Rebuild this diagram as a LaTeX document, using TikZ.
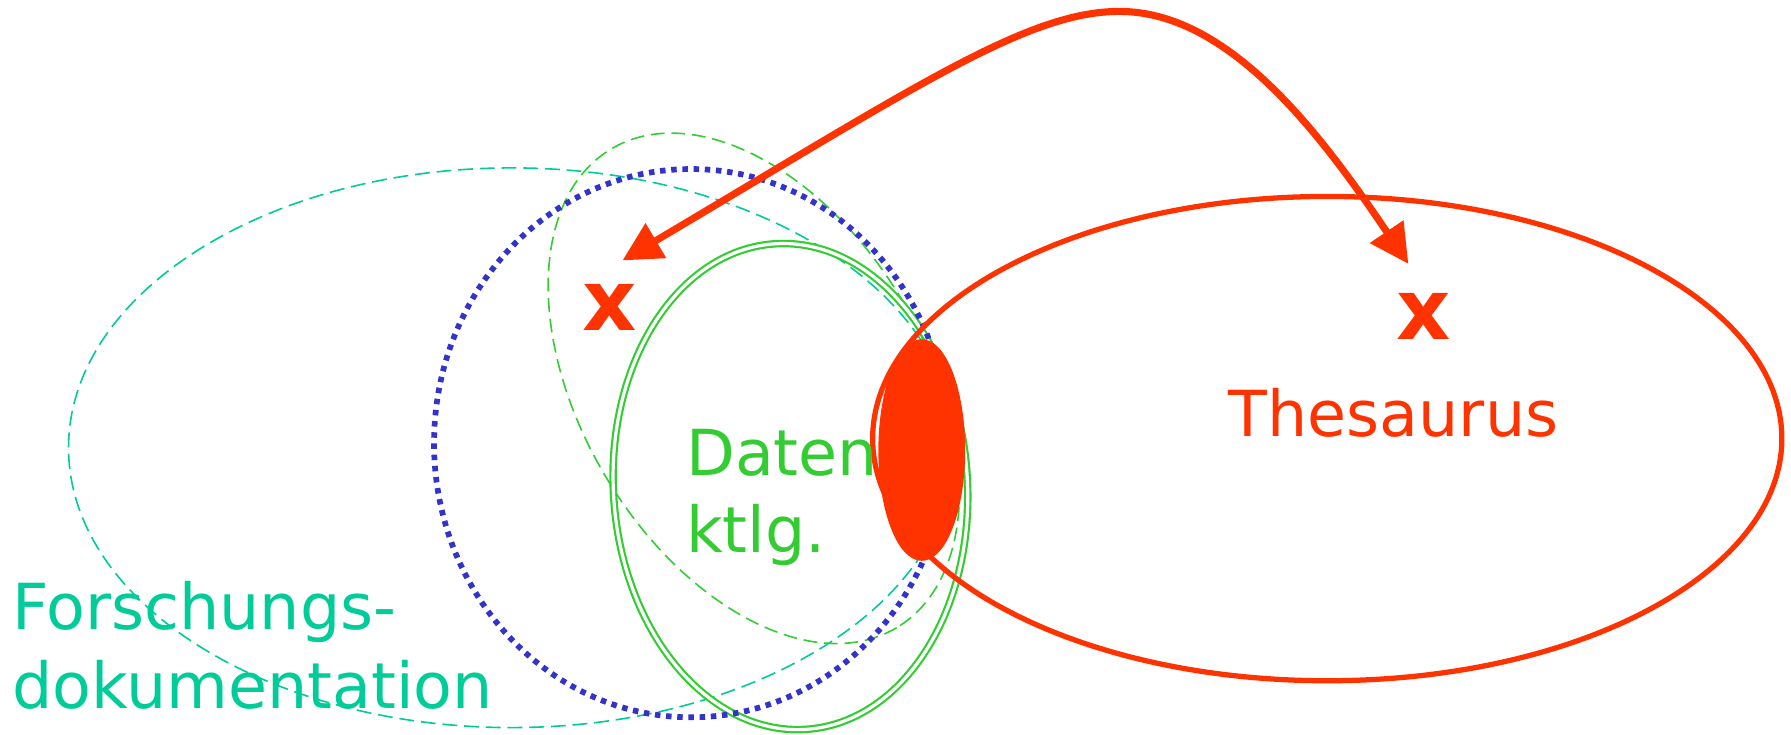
\documentclass[tikz,border=0pt]{standalone}
\usepackage{fontspec}
\setmainfont{DejaVu Sans}
\usetikzlibrary{arrows.meta}
\definecolor{tred}{HTML}{FF3300}
\definecolor{tgreen}{HTML}{33CC33}
\definecolor{tteal}{HTML}{00CC99}
\definecolor{tblue}{HTML}{3333CC}
\begin{document}
\begin{tikzpicture}[x=0.01cm, y=-0.01cm,
  lbl/.style={inner sep=0pt, anchor=base west, font=\fontsize{15.8}{19}\selectfont},
  xmark/.style={inner sep=0pt, anchor=base, text=tred, font=\fontsize{21}{25}\selectfont\bfseries},
  forsch/.style={draw=tteal, line width=0.014cm, dash pattern=on 0.13cm off 0.06cm},
  katdash/.style={draw=tgreen, line width=0.014cm, dash pattern=on 0.12cm off 0.06cm},
  katdouble/.style={draw=tgreen, line width=0.019cm, double=white, double distance=0.028cm},
  bluedot/.style={draw=tblue, line width=0.05cm, dash pattern=on 0.048cm off 0.05cm},
  thes/.style={draw=tred, line width=0.046cm},
  blob/.style={draw=tred, fill=tred, line width=0.02cm},
  linkarrow/.style={draw=tred, line width=0.062cm,
    {Triangle[length=0.34cm, width=0.34cm]}-{Triangle[length=0.34cm, width=0.34cm]}}
]
\useasboundingbox (0,0) rectangle (1568,643);

% Forschungsdokumentation (teal dashed)
\draw[forsch] (448,392) ellipse [x radius=388, y radius=245];
% Datenkatalog dashed ellipse (tilted)
\draw[katdash, rotate around={-59.2:(660,340)}] (660,340) ellipse [x radius=244, y radius=151];
% Datenkatalog double ellipse
\draw[katdouble, rotate around={3.6:(692,426)}] (692,426) ellipse [x radius=155, y radius=213];
% blue dotted ellipse
\draw[bluedot] (605,388) ellipse [x radius=225, y radius=240];
% Thesaurus ellipse
\draw[thes] (1162,384) ellipse [x radius=398, y radius=212];
% overlap blob
\draw[blob] (807,394) ellipse [x radius=37, y radius=96];

% labels
\node[lbl, text=tteal] (f1) at (10,551) {Forschungs-};
\node[lbl, text=tteal] (f2) at (10,620) {dokumentation};
\node[lbl, text=tgreen] (d1) at (600,416) {Daten};
\node[lbl, text=tgreen] (d2) at (600,484) {ktlg.};
\node[lbl, text=tred] (th) at (1075,382) {Thesaurus};
\node[xmark] (xl) at (533.5,289) {x};
\node[xmark] (xr) at (1246,297) {x};

% double arrow
\coordinate (aL) at (545,228);
\coordinate (aP) at (980,10);
\coordinate (aR) at (1233,231);
\draw[linkarrow] (aL) .. controls (803,75) and (900,10) .. (aP)
  .. controls (1075,10) and (1154.6,114.8) .. (aR);
\end{tikzpicture}
\end{document}
